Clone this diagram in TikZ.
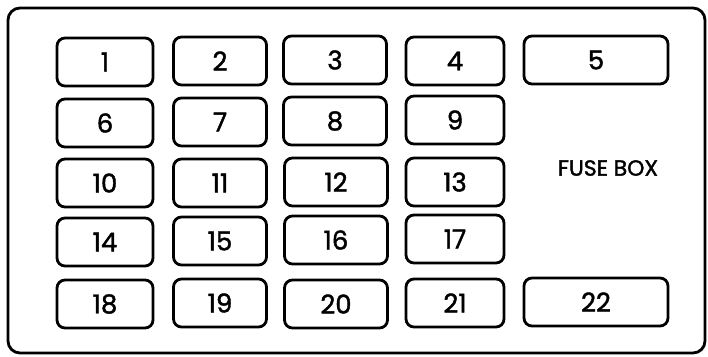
\documentclass[tikz,border=0pt]{standalone}
\usepackage{fontspec}
\setmainfont{Poppins}[AutoFakeBold=1.6]

\begin{document}
\begin{tikzpicture}[x=1bp, y=-1bp,
    fuse/.style={draw, line width=2.8bp, rounded corners=8bp, minimum height=48bp,
                 inner sep=0pt, font=\bfseries\fontsize{26}{26}\selectfont},
    narrow/.style={fuse, minimum width=96bp},
    wide/.style={fuse, minimum width=144bp}]

    \useasboundingbox (0,0) rectangle (708,356);

    % --- The housing ---
    \draw[line width=2.8bp, rounded corners=12bp] (8,8) rectangle (705,353);

    % --- Row 1 ---
    \node[narrow] (f1) at (105,62) {1};
    \node[narrow, minimum width=93bp] (f2) at (220,61) {2};
    \node[narrow, minimum width=103bp] (f3) at (335,60) {3};
    \node[narrow, minimum width=98bp] (f4) at (455,61) {4};
    \node[wide] (f5) at (596,60) {5};

    % --- Row 2 ---
    \node[narrow] (f6) at (105,123) {6};
    \node[narrow, minimum width=93bp] (f7) at (220,122) {7};
    \node[narrow, minimum width=103bp] (f8) at (335,121) {8};
    \node[narrow, minimum width=98bp] (f9) at (455,120) {9};

    % --- Row 3 ---
    \node[narrow] (f10) at (105,183) {10};
    \node[narrow, minimum width=93bp] (f11) at (220,183) {11};
    \node[narrow, minimum width=103bp] (f12) at (336,182) {12};
    \node[narrow, minimum width=98bp] (f13) at (455,182) {13};

    % --- Row 4 ---
    \node[narrow] (f14) at (105,242) {14};
    \node[narrow, minimum width=93bp] (f15) at (220,241) {15};
    \node[narrow, minimum width=103bp] (f16) at (336,240) {16};
    \node[narrow, minimum width=98bp] (f17) at (455,239) {17};

    % --- Row 5 ---
    \node[narrow] (f18) at (105,304) {18};
    \node[narrow, minimum width=93bp] (f19) at (220,303) {19};
    \node[narrow, minimum width=103bp] (f20) at (336,304) {20};
    \node[narrow, minimum width=98bp] (f21) at (455,303) {21};
    \node[wide] (f22) at (596,302) {22};

    % Label
    \node[font=\bfseries\fontsize{22}{22}\selectfont] (label) at (608,168) {FUSE BOX};

  \end{tikzpicture}
\end{document}
